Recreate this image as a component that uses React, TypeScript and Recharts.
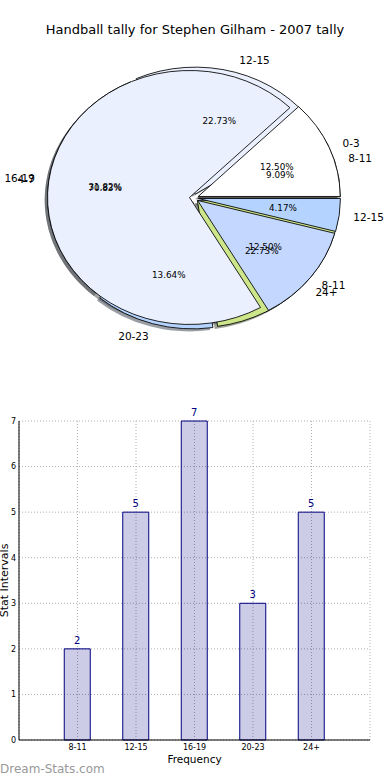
import React from 'react';
import { PieChart, Pie, Cell, BarChart, Bar, XAxis, YAxis, CartesianGrid, LabelList } from 'recharts';

// ---------- data ----------
const chartTitle = 'Handball tally for Stephen Gilham - 2007 tally';
const pieACategories = ['8-11', '12-15', '16-19', '20-23', '24+'];
const pieAValues = [2, 5, 7, 3, 5];
const pieBCategories = ['0-3', '4-7', '8-11', '12-15'];
const pieBValues = [3, 17, 3, 1];
const barCategories = ['8-11', '12-15', '16-19', '20-23', '24+'];
const barValues = [2, 5, 7, 3, 5];
const yTicks = [0, 1, 2, 3, 4, 5, 6, 7];
const xAxisTitle = 'Frequency';
const yAxisTitle = 'Stat Intervals';
const watermark = 'Dream-Stats.com';

// ---------- style ----------
const FONT = '"DejaVu Sans", Verdana, sans-serif';
const SLICE_COLORS = ['#FFFFFF', '#EAF0FD', '#C4D8FF', '#B4D4FF', '#CDE68A'];
const K = 127 / 142; // vertical squash of the pie (ellipse)
const R = 142;
const CX = 194;
const CY = 198 / K;
const E = 4.5; // explode distance
const SH = 2.84; // shadow offset

const pieAData = pieACategories.map((name, i) => ({ name, value: pieAValues[i] }));
const pieBData = pieBCategories.map((name, i) => ({ name, value: pieBValues[i] }));
const barData = barCategories.map((name, i) => ({ name, value: barValues[i] }));

const sum = (a: number[]) => a.reduce((s, v) => s + v, 0);
const midAngles = (values: number[]) => {
  const total = sum(values);
  let acc = 0;
  return values.map((v) => {
    const m = ((acc + v / 2) / total) * 360;
    acc += v;
    return m;
  });
};
const shade = (hex: string) => {
  const n = parseInt(hex.slice(1), 16);
  const r = Math.round(((n >> 16) & 255) * 0.3);
  const g = Math.round(((n >> 8) & 255) * 0.3);
  const b = Math.round((n & 255) * 0.3);
  return `rgb(${r},${g},${b})`;
};
const unsquash = (y: number) => `translate(0 ${y}) scale(1 ${1 / K}) translate(0 ${-y})`;

type PieSpec = { key: string; data: { name: string; value: number }[]; values: number[] };
const pies: PieSpec[] = [
  { key: 'A', data: pieAData, values: pieAValues },
  { key: 'B', data: pieBData, values: pieBValues },
];

function renderShadows(p: PieSpec) {
  const mids = midAngles(p.values);
  return p.data.map((_, i) => {
    const rad = (mids[i] * Math.PI) / 180;
    return (
      <Pie
        key={`sh-${p.key}-${i}`}
        data={p.data}
        dataKey="value"
        nameKey="name"
        cx={CX + E * Math.cos(rad) - SH}
        cy={CY - E * Math.sin(rad) + SH}
        outerRadius={R}
        startAngle={0}
        endAngle={360}
        paddingAngle={0}
        label={false}
        labelLine={false}
        isAnimationActive={false}
      >
        {p.data.map((d, j) => (
          <Cell
            key={j}
            fill={j === i ? shade(SLICE_COLORS[j]) : 'none'}
            fillOpacity={0.5}
            stroke="none"
          />
        ))}
      </Pie>
    );
  });
}

function renderWedges(p: PieSpec) {
  const mids = midAngles(p.values);
  return p.data.map((_, i) => {
    const rad = (mids[i] * Math.PI) / 180;
    return (
      <Pie
        key={`w-${p.key}-${i}`}
        data={p.data}
        dataKey="value"
        nameKey="name"
        cx={CX + E * Math.cos(rad)}
        cy={CY - E * Math.sin(rad)}
        outerRadius={R}
        startAngle={0}
        endAngle={360}
        paddingAngle={0}
        label={false}
        labelLine={false}
        isAnimationActive={false}
      >
        {p.data.map((d, j) => (
          <Cell
            key={j}
            fill={j === i ? SLICE_COLORS[j] : 'none'}
            stroke={j === i ? '#000' : 'none'}
            strokeWidth={0.9}
          />
        ))}
      </Pie>
    );
  });
}

function makeLabel(p: PieSpec) {
  const mids = midAngles(p.values);
  const total = sum(p.values);
  return (props: any) => {
    const index: number = props.index;
    const mid = typeof props.midAngle === 'number' ? props.midAngle : mids[index];
    const rad = (mid * Math.PI) / 180;
    const c = Math.cos(rad);
    const s = Math.sin(rad);
    const ex = CX + E * c;
    const ey = CY - E * s;
    const lx = ex + 1.1 * R * c;
    const ly = ey - 1.1 * R * s;
    const px = ex + 0.6 * R * c;
    const py = ey - 0.6 * R * s;
    return (
      <g key={`lbl-${p.key}-${index}`}>
        <text
          x={lx}
          y={ly}
          textAnchor={c > 0 ? 'start' : 'end'}
          dominantBaseline="central"
          fontSize={10.5}
          fontFamily={FONT}
          fill="#000"
          transform={unsquash(ly)}
        >
          {p.data[index].name}
        </text>
        <text
          x={px}
          y={py}
          textAnchor="middle"
          dominantBaseline="central"
          fontSize={8.8}
          fontFamily={FONT}
          fill="#000"
          transform={unsquash(py)}
        >
          {((p.values[index] / total) * 100).toFixed(2) + '%'}
        </text>
      </g>
    );
  };
}

function renderLabelPie(p: PieSpec) {
  return (
    <Pie
      key={`lp-${p.key}`}
      data={p.data}
      dataKey="value"
      nameKey="name"
      cx={CX}
      cy={CY}
      outerRadius={R}
      startAngle={0}
      endAngle={360}
      paddingAngle={0}
      label={makeLabel(p)}
      labelLine={false}
      isAnimationActive={false}
    >
      {p.data.map((d, j) => (
        <Cell key={j} fill="none" stroke="none" />
      ))}
    </Pie>
  );
}

const YLabel = (props: any) => {
  const vb = props.viewBox || { x: 0, y: 21, width: 19, height: 319 };
  const x = vb.x + 4;
  const y = vb.y + vb.height / 2;
  return (
    <text
      x={x}
      y={y}
      transform={`rotate(-90 ${x} ${y})`}
      textAnchor="middle"
      dominantBaseline="central"
      fontSize={11}
      fontFamily={FONT}
      fill="#000"
    >
      {yAxisTitle}
    </text>
  );
};

export default function App() {
  return (
    <div style={{ position: 'absolute', left: 0, top: 0, width: 390, height: 780, background: '#fff', fontFamily: FONT }}>
      <div
        style={{
          position: 'absolute',
          left: 0,
          top: 22,
          width: 390,
          height: 16,
          lineHeight: '16px',
          textAlign: 'center',
          fontSize: 13,
          color: '#000',
          fontFamily: FONT,
          zIndex: 2,
        }}
      >
        {chartTitle}
      </div>

      <div
        style={{
          position: 'absolute',
          left: 0,
          top: 0,
          width: 390,
          height: 400,
          transform: `scaleY(${K})`,
          transformOrigin: '0 0',
        }}
      >
        <PieChart width={390} height={400} margin={{ top: 0, right: 0, bottom: 0, left: 0 }}>
          {pies.map((p) => renderShadows(p))}
          {pies.map((p) => renderWedges(p))}
          {pies.map((p) => renderLabelPie(p))}
        </PieChart>
      </div>

      <div style={{ position: 'absolute', left: 0, top: 400, width: 390, height: 380 }}>
        <BarChart width={390} height={380} data={barData} margin={{ top: 21, right: 20, left: 0, bottom: 0 }}>
          <CartesianGrid stroke="#b0b0b0" strokeDasharray="1 2" />
          <XAxis
            dataKey="name"
            interval={0}
            padding={{ left: 29.25, right: 29.25 }}
            height={40}
            tickLine={false}
            tickSize={4}
            tickMargin={0}
            axisLine={{ stroke: '#000' }}
            tick={{ fontSize: 8, fill: '#000', fontFamily: FONT }}
            label={{ value: xAxisTitle, position: 'insideBottom', offset: 17, fontSize: 10.5, fill: '#000', fontFamily: FONT }}
          />
          <XAxis
            xAxisId="top"
            orientation="top"
            dataKey="name"
            height={0}
            padding={{ left: 29.25, right: 29.25 }}
            tick={false}
            tickLine={false}
            axisLine={{ stroke: '#000' }}
          />
          <YAxis
            type="number"
            domain={[0, 7]}
            ticks={yTicks}
            interval={0}
            width={19}
            tickLine={false}
            tickSize={3}
            tickMargin={0}
            axisLine={{ stroke: '#000' }}
            tick={{ fontSize: 8, fill: '#000', fontFamily: FONT }}
            label={{ content: YLabel }}
          />
          <YAxis
            yAxisId="right"
            orientation="right"
            type="number"
            domain={[0, 7]}
            width={0}
            tick={false}
            tickLine={false}
            axisLine={{ stroke: '#000' }}
          />
          <Bar
            dataKey="value"
            barSize={26}
            fill="#000080"
            fillOpacity={0.2}
            stroke="#000080"
            strokeWidth={1}
            isAnimationActive={false}
          >
            <LabelList dataKey="value" position="top" offset={5} fill="#000080" fontSize={10} fontFamily={FONT} />
          </Bar>
        </BarChart>
      </div>

      <div
        style={{
          position: 'absolute',
          left: 0,
          top: 762,
          fontSize: 12,
          lineHeight: '14px',
          color: '#999',
          fontFamily: FONT,
        }}
      >
        {watermark}
      </div>
    </div>
  );
}
